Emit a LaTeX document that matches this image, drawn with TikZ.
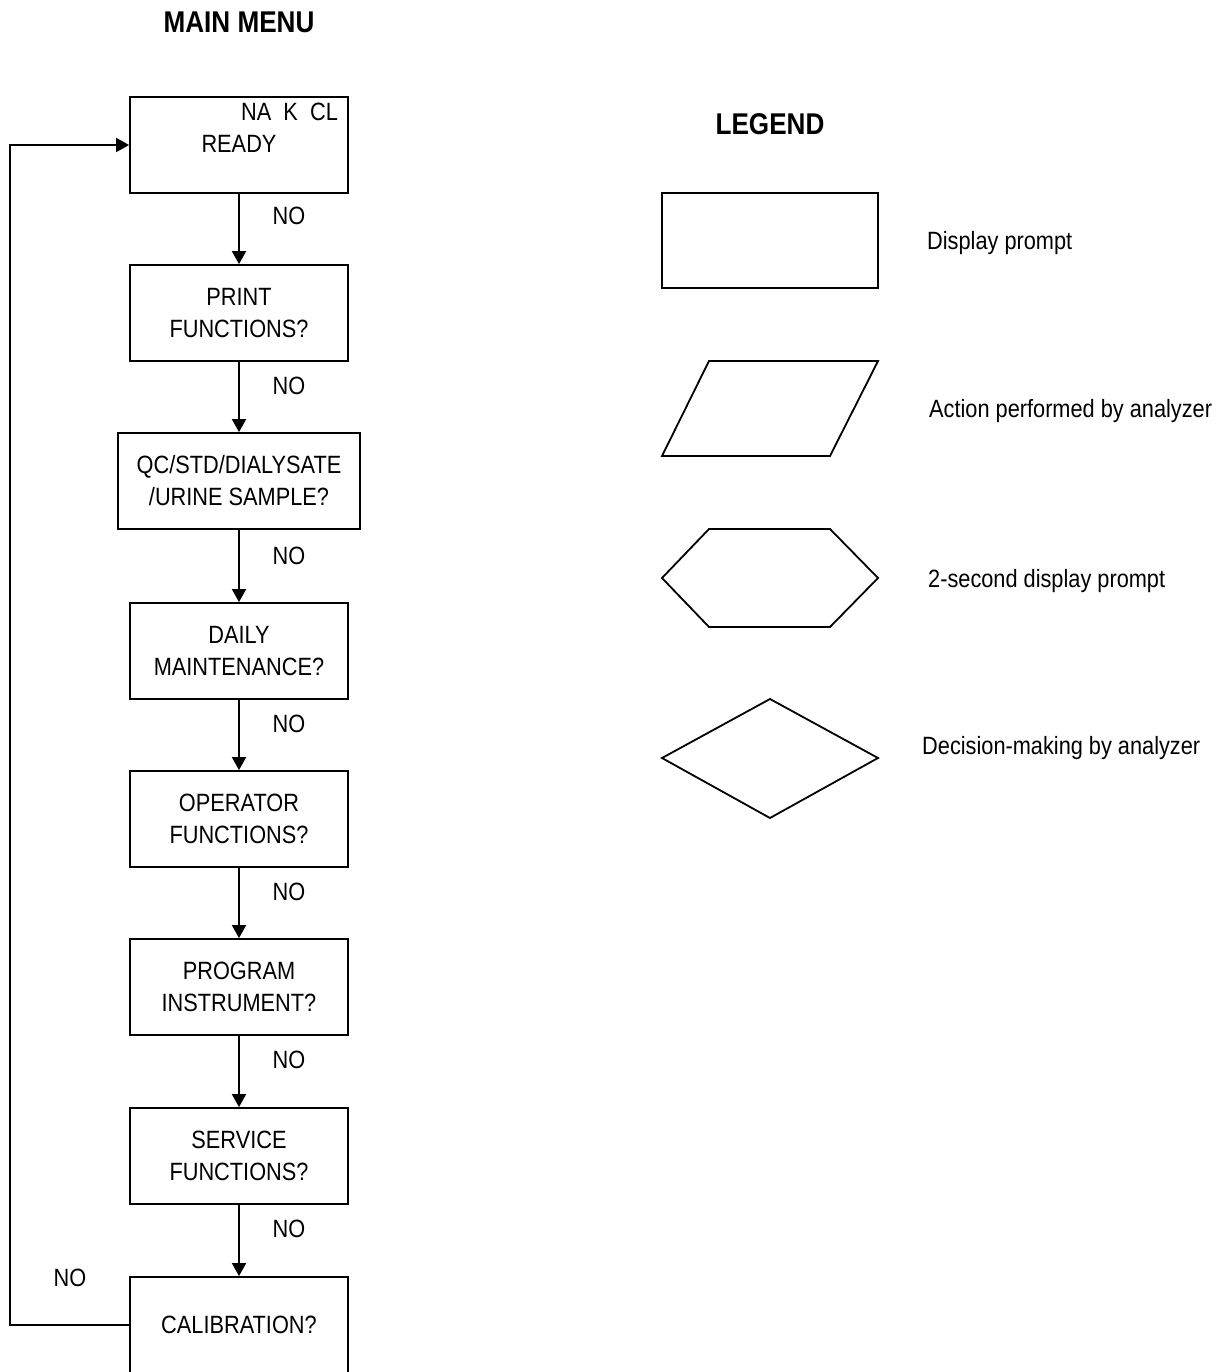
\documentclass[tikz,border=0pt]{standalone}
\usepackage{fontspec}
\setmainfont{Liberation Sans}[FakeStretch=0.87]
\usetikzlibrary{arrows.meta}

\begin{document}
\begin{tikzpicture}[x=1pt,y=-1pt,
  every node/.style={inner sep=0pt},
  body/.style={font=\fontsize{25}{32}\selectfont},
  title/.style={font=\fontsize{30}{36}\selectfont\bfseries},
  box/.style={draw, line width=1.8pt, minimum width=218pt, minimum height=96pt,
              align=center, body},
  lbl/.style={body},
  outline/.style={line width=1.8pt, line join=miter},
  arr/.style={line width=1.8pt, -{Triangle[length=13pt,width=14pt]}}
]
\useasboundingbox (0,0) rectangle (1220,1372);
\clip (0,0) rectangle (1220,1372);

% heading
\node[title] (mtitle) at (239,22) {MAIN MENU};

% menu chain
\node[box] (b1) at (239,145) {};
\node[lbl, anchor=base west] (b1a) at (241,121) {NA~~K~~CL};
\node[lbl, anchor=base] (b1b) at (239,153) {READY};
\node[box] (b2) at (239,313) {PRINT\\FUNCTIONS?};
\node[box, minimum width=242pt] (b3) at (239,481) {QC/STD/DIALYSATE\\/URINE SAMPLE?};
\node[box] (b4) at (239,651) {DAILY\\MAINTENANCE?};
\node[box] (b5) at (239,819) {OPERATOR\\FUNCTIONS?};
\node[box] (b6) at (239,987) {PROGRAM\\INSTRUMENT?};
\node[box] (b7) at (239,1156) {SERVICE\\FUNCTIONS?};
\node[box] (b8) at (239,1325) {CALIBRATION?};

\draw[arr] (b1) -- (b2);
\draw[arr] (b2) -- (b3);
\draw[arr] (b3) -- (b4);
\draw[arr] (b4) -- (b5);
\draw[arr] (b5) -- (b6);
\draw[arr] (b6) -- (b7);
\draw[arr] (b7) -- (b8);

\node[lbl] (n1) at (289,216) {NO};
\node[lbl] (n2) at (289,386) {NO};
\node[lbl] (n3) at (289,556) {NO};
\node[lbl] (n4) at (289,724) {NO};
\node[lbl] (n5) at (289,892) {NO};
\node[lbl] (n6) at (289,1060) {NO};
\node[lbl] (n7) at (289,1229) {NO};

% return path from the last item to the top
\coordinate (c1) at (10,1325);
\coordinate (c2) at (10,145);
\draw[arr] (b8.west) -- (c1) -- (c2) -- (b1.west);
\node[lbl] (n8) at (70,1278) {NO};

% legend
\node[title] (ltitle) at (770,124) {LEGEND};

\node[draw, line width=1.8pt, minimum width=216pt, minimum height=95pt] (lrect) at (770,240.5) {};
\node[lbl, anchor=base west] (t1) at (927,249) {Display prompt};

\draw[outline] (709,361) -- (878,361) -- (830,456) -- (662,456) -- cycle;
\node[lbl, anchor=base west] (t2) at (929,417) {Action performed by analyzer};

\draw[outline] (662,578) -- (709,529) -- (830,529) -- (878,578) -- (830,627) -- (709,627) -- cycle;
\node[lbl, anchor=base west] (t3) at (928,587) {2-second display prompt};

\draw[outline] (662,758) -- (770,699) -- (878,758) -- (770,818) -- cycle;
\node[lbl, anchor=base west] (t4) at (922,754) {Decision-making by analyzer};
\end{tikzpicture}
\end{document}
